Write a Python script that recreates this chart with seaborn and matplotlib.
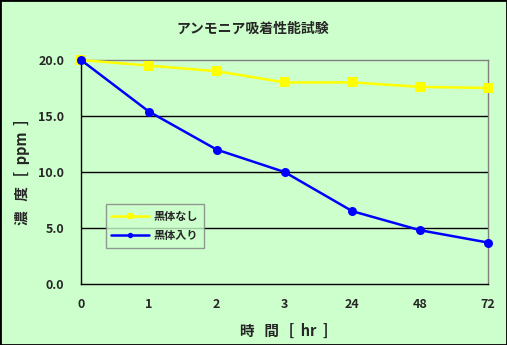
import matplotlib
matplotlib.use("Agg")
import matplotlib.pyplot as plt
import seaborn as sns
import pandas as pd
from matplotlib.patches import Rectangle

categories = ["0", "1", "2", "3", "24", "48", "72"]
no_black = [20.0, 19.5, 19.0, 18.0, 18.0, 17.6, 17.5]
with_black = [20.0, 15.4, 12.0, 10.0, 6.5, 4.8, 3.7]
series_names = ["黒体なし", "黒体入り"]
yticks = [0.0, 5.0, 10.0, 15.0, 20.0]

sns.set_style("white")
plt.rcParams['font.family'] = ['Noto Sans CJK JP', 'DejaVu Sans']
plt.rcParams['font.weight'] = 'bold'

bg = "#CCFFCC"
pos = list(range(len(categories)))
df = pd.DataFrame({
    "pos": pos * 2,
    "value": no_black + with_black,
    "series": [series_names[0]] * len(pos) + [series_names[1]] * len(pos),
})

fig = plt.figure(figsize=(5.07, 3.45), dpi=100, facecolor=bg)
ax = fig.add_axes([81/507, 61/345, 407/507, 224/345])
ax.set_facecolor(bg)

sns.lineplot(data=df, x="pos", y="value", hue="series", style="series",
             palette={series_names[0]: "#FFFF00", series_names[1]: "#0000FF"},
             markers={series_names[0]: "s", series_names[1]: "o"},
             dashes=False, markersize=6.5, linewidth=1.8, markeredgewidth=0,
             sort=False, ax=ax, zorder=3, clip_on=False)

ax.set_xlim(0, 6)
ax.set_ylim(0, 20)
ax.set_xticks(pos)
ax.set_xticklabels(categories, fontsize=9, fontweight='bold')
ax.set_yticks(yticks)
ax.set_yticklabels([f"{v:.1f}" for v in yticks], fontsize=9, fontweight='bold')
ax.tick_params(axis='x', direction='in', length=3, width=1, color='black', pad=10)
ax.tick_params(axis='y', length=0, pad=12)
for v in [5, 10, 15]:
    ax.axhline(v, color='black', linewidth=1, zorder=1)

ax.spines['left'].set_color('black')
ax.spines['bottom'].set_color('black')
ax.spines['top'].set_color('#808080')
ax.spines['right'].set_color('#808080')
for s in ax.spines.values():
    s.set_linewidth(1)
    s.set_visible(True)

ax.set_xlabel("時   間   [  hr  ]", fontsize=10.5, fontweight='bold')
ax.xaxis.set_label_coords(0.5, -0.175)
ax.set_ylabel("濃   度   [  ppm  ]", fontsize=10.5, fontweight='bold')
ax.yaxis.set_label_coords(-0.125, 0.5)
fig.text(253/507, 1 - 29/345, "アンモニア吸着性能試験", ha='center', va='center',
         fontsize=10, fontweight='bold')

leg = ax.legend(loc='upper left', bbox_to_anchor=(0.061, 0.357), fontsize=8,
                frameon=True, fancybox=False, facecolor=bg, edgecolor='#808080',
                handlelength=3.4, borderpad=0.5, labelspacing=0.6,
                markerscale=0.6, borderaxespad=0, handletextpad=0.4)
leg.get_frame().set_linewidth(1)
for t in leg.get_texts():
    t.set_fontweight('bold')

fig.patches.append(Rectangle((0, 0), 1, 1, transform=fig.transFigure,
                             fill=False, edgecolor='black', linewidth=2))

fig.savefig("out.png", dpi=100, facecolor=bg)
